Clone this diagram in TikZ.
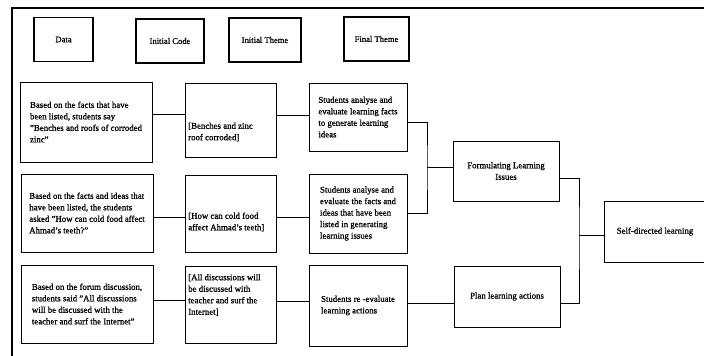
\documentclass[tikz,border=0pt]{standalone}
\usepackage{fontspec}
\setmainfont{Liberation Serif}[BoldFont=Liberation Serif, BoldFeatures={FakeBold=0.9}]
\begin{document}
\begin{tikzpicture}[x=1pt,y=-1pt,
  box/.style={draw=black, line width=0.9pt, inner sep=0pt, align=left,
    font=\fontsize{8.8}{11.5}\selectfont\bfseries},
  hbox/.style={draw=black, line width=1.3pt, inner sep=0pt,
    font=\fontsize{8.6}{10}\selectfont\bfseries},
  txt/.style={inner sep=0pt, align=left, font=\fontsize{8.8}{11.5}\selectfont\bfseries},
  link/.style={draw=black, line width=0.8pt},
  frame/.style={draw=black, line width=1.8pt}]
\useasboundingbox (0,0) rectangle (704,356);

% outer frame (top and left edges visible)
\coordinate (fa) at (12,360);
\coordinate (fb) at (12,8);
\coordinate (fc) at (710,8);
\draw[frame] (fa) -- (fb) -- (fc);

% headers
\node[hbox, minimum width=59pt, minimum height=44pt] (hData)  at (63.5,39.5) {Data};
\node[hbox, minimum width=68pt, minimum height=44pt] (hCode)  at (170,41)   {Initial Code};
\node[hbox, minimum width=72pt, minimum height=44pt] (hTheme) at (265,40)   {Initial Theme};
\node[hbox, minimum width=65pt, minimum height=44pt] (hFinal) at (376.5,39) {Final Theme};

% row 1
\node[box, minimum width=132pt, minimum height=80pt] (d1) at (86,122)
  {Based on the facts that have\\ been listed, students say\\ "Benches and roofs of corroded\\ zinc"};
\node[box, minimum width=91pt, minimum height=74pt] (c1) at (230.5,120) {};
\node[txt, anchor=west] (c1t) at ([xshift=3.5pt,yshift=-12pt]c1.west)
  {[Benches and zinc\\ roof corroded]};
\node[box, minimum width=98pt, minimum height=68pt] (t1) at (358,117)
  {Students analyse and\\ evaluate learning facts\\ to generate learning\\ ideas};

% row 2
\node[box, minimum width=132pt, minimum height=78pt] (d2) at (87,213)
  {Based on the facts and ideas that\\ have been listed, the students\\ asked "How can cold food affect\\ Ahmad's teeth?"};
\node[box, minimum width=91pt, minimum height=77pt] (c2) at (230.5,213.5) {};
\node[txt, anchor=west] (c2t) at ([xshift=3.5pt,yshift=-8.5pt]c2.west)
  {[How can cold food\\ affect Ahmad's teeth]};
\node[box, minimum width=98pt, minimum height=79pt] (t2) at (358,213.5)
  {Students analyse and\\ evaluate the facts and\\ ideas that have been\\ listed in generating\\ learning issues};

% row 3
\node[box, minimum width=132pt, minimum height=78pt] (d3) at (87,304)
  {Based on the forum discussion,\\ students said "All discussions\\ will be discussed with the\\ teacher and surf the Internet"};
\node[box, minimum width=91pt, minimum height=77pt] (c3) at (230.5,304.5) {};
\node[txt, anchor=west] (c3t) at ([xshift=3.5pt,yshift=9.5pt]c3.west)
  {[All discussions will\\ be discussed with\\ teacher and surf the\\ Internet]};
\node[box, minimum width=98pt, minimum height=81pt] (t3) at (358,305.5)
  {Students re -evaluate\\ learning actions};

% final themes
\node[box, align=center, minimum width=106pt, minimum height=60pt] (f1) at (506,171)
  {Formulating Learning\\ Issues};
\node[box, minimum width=106pt, minimum height=61pt] (f2) at (507,296.5)
  {Plan learning actions};
\node[box, minimum width=102pt, minimum height=61pt] (sd) at (655,231.5)
  {Self-directed learning};

% connectors
\draw[link] ([yshift=8pt]d1.east) -- ([yshift=8pt]d1.east -| c1.west);
\draw[link] ([yshift=5pt]c1.east) -- ([yshift=5pt]c1.east -| t1.west);
\draw[link] ([yshift=-4pt]d2.east) -- ([yshift=-4pt]d2.east -| c2.west);
\draw[link] ([yshift=-3.5pt]c2.east) -- ([yshift=-3.5pt]c2.east -| t2.west);
\draw[link] ([yshift=4pt]d3.east) -- ([yshift=4pt]d3.east -| c3.west);
\draw[link] ([yshift=3.5pt]c3.east) -- ([yshift=3.5pt]c3.east -| t3.west);
\draw[link] ([yshift=2.5pt]t3.east) -- ([yshift=2.5pt]t3.east -| f2.west);

\coordinate (j1) at (427,167);
\coordinate (j2) at (579,235);
\draw[link] ([yshift=-5pt]t1.east) -| (j1) |- (t2.east);
\draw[link] (j1) -- (j1 -| f1.west);
\draw[link] ([yshift=-7pt]f1.east) -| (j2) |- ([yshift=-6.5pt]f2.east);
\draw[link] (j2) -- (j2 -| sd.west);
\end{tikzpicture}
\end{document}
